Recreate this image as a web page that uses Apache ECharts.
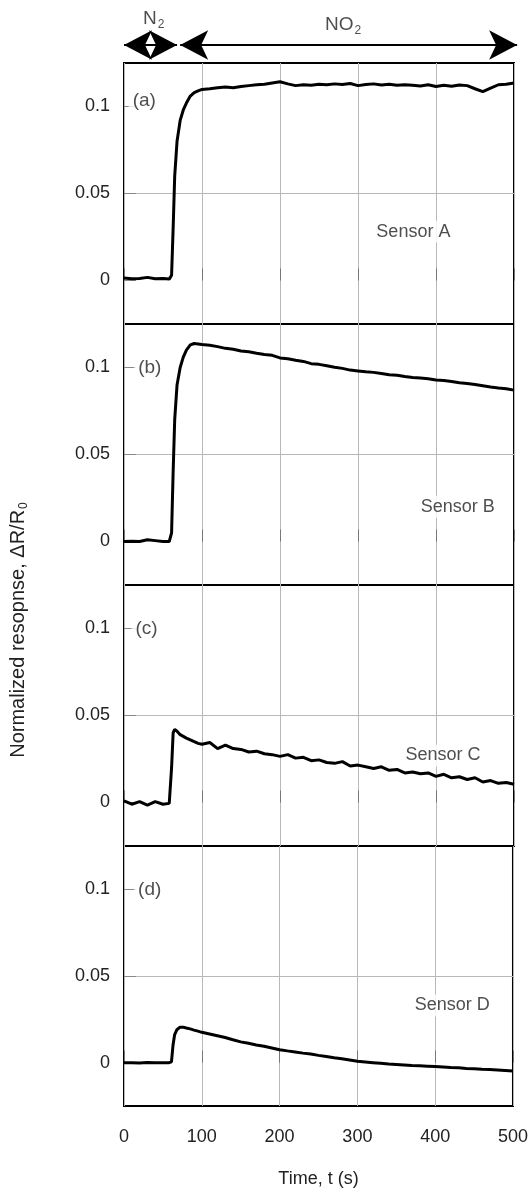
<!DOCTYPE html>
<html>
<head>
<meta charset="utf-8">
<script src="https://cdn.jsdelivr.net/npm/echarts@6/dist/echarts.min.js"></script>
<style>
  html, body { margin: 0; padding: 0; background: #fff; }
  #chart { width: 531px; height: 1189px; }
</style>
</head>
<body>
<div id="chart"></div>
<script>
// 时间轴 (s)
const times = [0, 10, 20, 30, 40, 50, 58, 61, 63, 65, 68, 72, 76, 80, 85, 90, 95, 100,
  110, 120, 130, 140, 150, 160, 170, 180, 190, 200, 210, 220, 230, 240, 250, 260, 270, 280, 290, 300,
  310, 320, 330, 340, 350, 360, 370, 380, 390, 400, 410, 420, 430, 440, 450, 460, 470, 480, 490, 500];

// 各传感器响应 ΔR/R0
const sensorA = [0.0015, 0.001, 0.0012, 0.0018, 0.001, 0.0012, 0.0008, 0.003, 0.03, 0.06, 0.08, 0.092, 0.098, 0.102, 0.106, 0.108, 0.109, 0.1098,
  0.1102, 0.1108, 0.1112, 0.1108, 0.1115, 0.112, 0.1125, 0.1128, 0.1135, 0.1142, 0.113, 0.112, 0.1125, 0.1122, 0.1128, 0.1125, 0.113, 0.1126, 0.1132, 0.112,
  0.1126, 0.113, 0.1124, 0.1128, 0.1122, 0.1125, 0.1122, 0.1118, 0.1125, 0.1115, 0.1122, 0.1116, 0.1124, 0.112, 0.1102, 0.1085, 0.1105, 0.1125, 0.1128, 0.1135];

const sensorB = [0, 0.0002, 0, 0.001, 0.0005, 0, 0, 0.005, 0.04, 0.07, 0.09, 0.1, 0.106, 0.11, 0.113, 0.1138, 0.1135, 0.1132,
  0.1128, 0.112, 0.111, 0.1105, 0.1095, 0.109, 0.1082, 0.1075, 0.107, 0.1055, 0.105, 0.1042, 0.1035, 0.1022, 0.1018, 0.101, 0.1002, 0.0995, 0.0985, 0.098,
  0.0975, 0.0972, 0.0965, 0.0958, 0.0955, 0.0948, 0.0942, 0.094, 0.0935, 0.0928, 0.0925, 0.092, 0.0912, 0.0908, 0.0902, 0.0895, 0.0888, 0.0882, 0.0878, 0.087];

const sensorC = [0.001, -0.001, 0.0005, -0.0015, 0.0005, -0.001, -0.0005, 0.02, 0.04, 0.042, 0.041, 0.039, 0.038, 0.037, 0.036, 0.035, 0.034, 0.0335,
  0.0345, 0.031, 0.033, 0.031, 0.0305, 0.029, 0.0295, 0.028, 0.0275, 0.0265, 0.0275, 0.0255, 0.026, 0.024, 0.0245, 0.023, 0.0225, 0.0235, 0.021, 0.0215,
  0.0205, 0.0195, 0.0205, 0.0185, 0.019, 0.017, 0.0175, 0.0165, 0.017, 0.015, 0.0162, 0.0142, 0.0148, 0.0132, 0.0142, 0.0118, 0.0126, 0.011, 0.0115, 0.0105];

const sensorD = [0, 0, -0.0002, 0.0001, 0, 0, 0, 0.0005, 0.01, 0.016, 0.019, 0.0205, 0.0205, 0.02, 0.0195, 0.0188, 0.0182, 0.0175,
  0.0165, 0.0155, 0.0145, 0.0132, 0.012, 0.0112, 0.0102, 0.0095, 0.0085, 0.0075, 0.0068, 0.0062, 0.0055, 0.005, 0.0042, 0.0035, 0.0028, 0.0022, 0.0015, 0.0008,
  0.0004, 0, -0.0004, -0.0008, -0.001, -0.0013, -0.0016, -0.0018, -0.002, -0.0022, -0.0025, -0.0028, -0.003, -0.0033, -0.0035, -0.0038, -0.004, -0.0042, -0.0045, -0.0048];

const seriesList = [sensorA, sensorB, sensorC, sensorD];
const panelNames = ['(a)', '(b)', '(c)', '(d)'];
const panelLabelPos = [[26, 0.1035], [33, 0.1], [29, 0.1], [33, 0.1]];
const sensorNames = ['Sensor A', 'Sensor B', 'Sensor C', 'Sensor D'];
const sensorLabelPos = [[371, 0.028], [428, 0.02], [409, 0.027], [422, 0.033]];

// 刻度
const yTickValues = [0, 0.05, 0.1];
const yTickLabels = ['0', '0.05', '0.1'];

// 顶部气体区间 (s)
const gasNames = ['N{sub|2}', 'NO{sub|2}'];
const gasSpans = [[0, 68], [72, 504]];

const chart = echarts.init(document.getElementById('chart'));

const FONT = 'Liberation Sans, Arial, Helvetica, sans-serif';
const PLOT_LEFT = 124;
const PLOT_WIDTH = 390;
const PANEL_TOP = 63;
const PANEL_H = 261;
const TOP_MAX = 520; // 箭头区横轴稍长, 让 NO2 箭头伸出边框

function buildOption() {
    const grids = [], xAxes = [], yAxes = [], series = [];

    seriesList.forEach((vals, i) => {
        const last = i === seriesList.length - 1;
        grids.push({
            left: PLOT_LEFT, width: PLOT_WIDTH,
            top: PANEL_TOP + PANEL_H * i, height: PANEL_H,
            show: true, borderColor: '#000', borderWidth: 2,
            backgroundColor: 'transparent'
        });
        xAxes.push({
            gridIndex: i, type: 'value', min: 0, max: 500, interval: 100,
            axisLine: { show: false },
            axisTick: { show: true, inside: true, length: 12, lineStyle: { color: '#777' } },
            axisLabel: { show: last, margin: 22, fontSize: 18, color: '#222', fontFamily: FONT },
            splitLine: { show: true, lineStyle: { color: '#b8b8b8', width: 1 } },
            name: last ? 'Time, t (s)' : '',
            nameLocation: 'middle', nameGap: 64,
            nameTextStyle: { fontSize: 18, color: '#222', fontFamily: FONT }
        });
        yAxes.push({
            gridIndex: i, type: 'value', min: -0.025, max: 0.125, interval: 0.025,
            axisLine: { show: false },
            axisTick: { show: true, inside: true, length: 12, customValues: yTickValues, lineStyle: { color: '#888' } },
            axisLabel: {
                margin: 14, fontSize: 18, color: '#222', fontFamily: FONT,
                formatter: v => {
                    const k = Math.round(v / 0.025);
                    return (k >= 0 && k % 2 === 0 && k / 2 < yTickLabels.length) ? yTickLabels[k / 2] : '';
                }
            },
            splitLine: { show: true, lineStyle: { color: ['rgba(0,0,0,0)', '#b8b8b8'], width: 1 } }
        });
        series.push({
            type: 'line', xAxisIndex: i, yAxisIndex: i,
            data: times.map((t, j) => [t, vals[j]]),
            showSymbol: false, smooth: false,
            lineStyle: { color: '#000', width: 3 },
            z: 3
        });
        series.push({
            type: 'scatter', xAxisIndex: i, yAxisIndex: i,
            symbolSize: 1, itemStyle: { color: 'rgba(0,0,0,0)' },
            data: [
                { name: panelNames[i], value: panelLabelPos[i], label: { fontSize: 19 } },
                { name: sensorNames[i], value: sensorLabelPos[i] }
            ],
            label: {
                show: true, position: 'inside', color: '#222', fontFamily: FONT,
                fontSize: 18, backgroundColor: '#fff', padding: [2, 4],
                formatter: p => p.name
            },
            z: 4
        });
    });

    // 顶部箭头区
    const gi = seriesList.length;
    grids.push({ left: PLOT_LEFT, width: PLOT_WIDTH * TOP_MAX / 500, top: 0, height: 60 });
    xAxes.push({ gridIndex: gi, type: 'value', min: 0, max: TOP_MAX, show: false });
    yAxes.push({ gridIndex: gi, type: 'value', min: 0, max: 60, inverse: true, show: false });
    series.push({
        type: 'line', xAxisIndex: gi, yAxisIndex: gi, data: [], clip: false,
        markLine: {
            silent: true, animation: false,
            symbol: ['arrow', 'arrow'], symbolSize: [22, 28],
            lineStyle: { color: '#000', width: 2, type: 'solid' },
            label: { show: false },
            data: gasSpans.map(s => [{ coord: [s[0], 45] }, { coord: [s[1], 45] }])
        }
    });
    series.push({
        type: 'scatter', xAxisIndex: gi, yAxisIndex: gi, clip: false,
        symbolSize: 1, itemStyle: { color: 'rgba(0,0,0,0)' },
        data: [
            { name: gasNames[0], value: [(gasSpans[0][0] + gasSpans[0][1]) / 2 + 4, 19] },
            { name: gasNames[1], value: [(gasSpans[1][0] + gasSpans[1][1]) / 2 - 7, 25] }
        ],
        label: {
            show: true, position: 'inside', color: '#222', fontFamily: FONT, fontSize: 19,
            formatter: p => p.name,
            rich: { sub: { fontSize: 12, fontFamily: FONT, color: '#222', padding: [12, 0, 0, 1] } }
        }
    });

    return {
        animation: false,
        backgroundColor: '#fff',
        grid: grids, xAxis: xAxes, yAxis: yAxes, series: series,
        graphic: [{
            type: 'text', x: 18, y: 630, rotation: Math.PI / 2,
            style: {
                text: 'Normalized resopnse, ΔR/R{sub|0}',
                font: '20px ' + FONT, fill: '#222',
                align: 'center', verticalAlign: 'middle',
                rich: { sub: { fontSize: 12, fontFamily: FONT, fill: '#222', padding: [12, 0, 0, 1] } }
            }
        }]
    };
}

chart.setOption(buildOption());
window.addEventListener('resize', () => chart.resize());
</script>
</body>
</html>
